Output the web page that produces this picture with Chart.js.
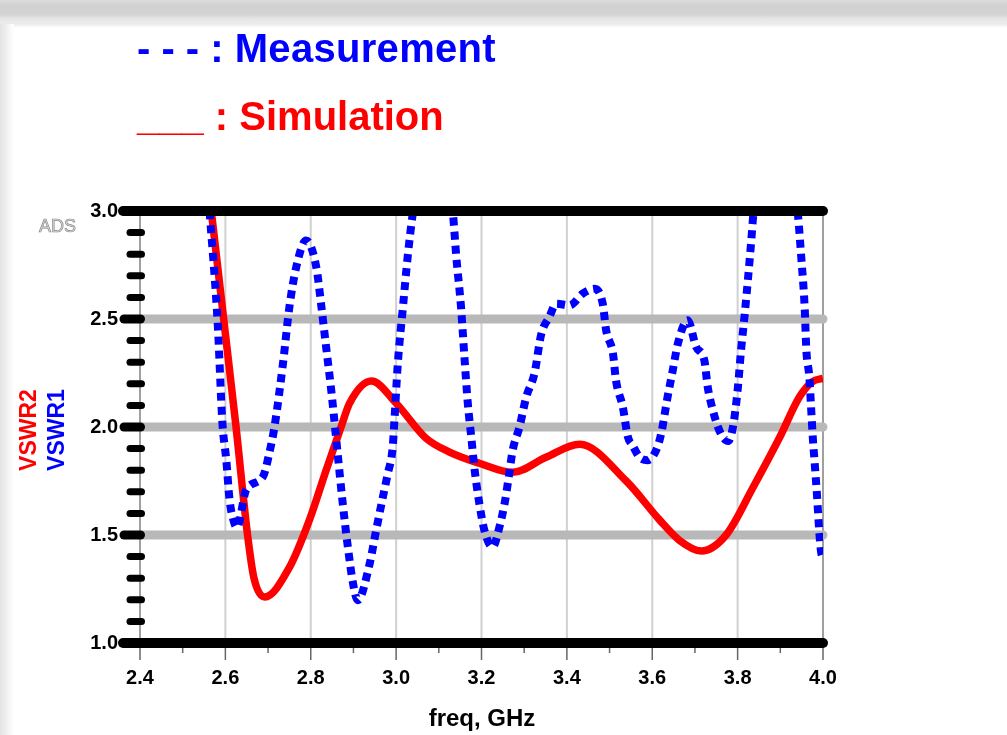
<!DOCTYPE html>
<html>
<head>
<meta charset="utf-8">
<script src="https://cdn.jsdelivr.net/npm/chart.js@4.4.1/dist/chart.umd.min.js"></script>
<style>
body { margin:0; width:1007px; height:735px; overflow:hidden; position:relative; background:#fff; font-family:"Liberation Sans", Arial, sans-serif; }
#topbar { position:absolute; left:0; top:0; width:1007px; height:28px; background:linear-gradient(to bottom, #dcdcdc 0px, #d0d0d0 6px, #d4d4d4 15px, #e4e4e4 18px, #ececec 24px, #ffffff 28px); }
#leftbar { position:absolute; left:0; top:24px; width:14px; height:711px; background:linear-gradient(to right, #e4e4e4 0px, #eeeeee 6px, #f8f8f8 10px, #ffffff 14px); }
canvas { position:absolute; left:0; top:0; }
.leg { position:absolute; left:137px; font-weight:bold; font-size:40px; line-height:40px; white-space:pre; }
.ytitle { position:absolute; width:120px; height:28px; line-height:28px; text-align:center; font-weight:bold; font-size:23px; transform:rotate(-90deg); }
</style>
</head>
<body>
<div id="topbar"></div>
<div id="leftbar"></div>
<canvas id="chart" width="1007" height="735"></canvas>
<div class="leg" style="top:28px; color:#0000ff;">- - - : <span style="letter-spacing:0.3px">Measurement</span></div>
<div class="leg" style="top:96px; color:#ff0000;">___ : Simulation</div>
<div class="ytitle" style="left:-32px; top:416px; color:#ff0000;">VSWR2</div>
<div class="ytitle" style="left:-4px; top:416px; color:#0000ff;">VSWR1</div>
<div style="position:absolute; left:39px; top:216px; font-size:18px; line-height:20px; color:#d8d8d8; -webkit-text-stroke:0.7px #8c8c8c;">ADS</div>
<div style="position:absolute; left:382px; top:706px; width:200px; text-align:center; font-weight:bold; font-size:24px; line-height:24px;">freq, GHz</div>
<script>
const measFreq = [2.563, 2.582, 2.593, 2.602, 2.610, 2.621, 2.627, 2.649, 2.688, 2.703, 2.715, 2.735, 2.750, 2.766, 2.789,
    2.813, 2.825, 2.836, 2.848, 2.856, 2.863, 2.875, 2.887, 2.899, 2.910, 2.938, 2.953, 2.969, 2.980, 2.992,
    2.996, 3.004, 3.016, 3.027, 3.039, 3.086, 3.133, 3.141, 3.152, 3.160, 3.168, 3.176, 3.184, 3.195, 3.207,
    3.226, 3.242, 3.254, 3.265, 3.273, 3.289, 3.305, 3.324, 3.340, 3.359, 3.375, 3.406, 3.437, 3.465, 3.484,
    3.492, 3.508, 3.515, 3.531, 3.543, 3.554, 3.570, 3.589, 3.609, 3.621, 3.636, 3.648, 3.660, 3.683, 3.703,
    3.722, 3.730, 3.742, 3.754, 3.765, 3.778, 3.789, 3.800, 3.808, 3.816, 3.824, 3.832, 3.837, 3.890, 3.941,
    3.949, 3.957, 3.961, 3.968, 3.972, 3.976, 3.980, 3.984, 3.996, 4.000];
const measVswr = [3.00, 2.48, 2.02, 1.85, 1.66, 1.555, 1.535, 1.71, 1.77, 1.88, 2.00, 2.295, 2.556, 2.74, 2.864,
    2.74, 2.556, 2.37, 2.17, 2.017, 1.877, 1.645, 1.444, 1.276, 1.198, 1.367, 1.52, 1.676, 1.78, 1.907,
    2.03, 2.295, 2.556, 2.787, 2.99, 3.6, 2.99, 2.787, 2.556, 2.324, 2.108, 1.954, 1.80, 1.645, 1.52,
    1.444, 1.537, 1.645, 1.784, 1.892, 2.00, 2.14, 2.247, 2.43, 2.51, 2.571, 2.563, 2.617, 2.64, 2.571,
    2.448, 2.34, 2.216, 2.093, 1.954, 1.915, 1.861, 1.846, 1.892, 1.97, 2.14, 2.262, 2.386, 2.494, 2.37,
    2.309, 2.185, 2.077, 2.00, 1.954, 1.935, 2.00, 2.17, 2.355, 2.51, 2.68, 2.864, 2.99, 3.8, 2.99,
    2.787, 2.556, 2.355, 2.232, 2.093, 1.954, 1.846, 1.74, 1.415, 1.40];

// VSWR2 (simulation)
const simFreq = [2.567, 2.596, 2.625, 2.652, 2.667, 2.692, 2.750, 2.797, 2.836, 2.871, 2.891, 2.942, 3.000, 3.070,
    3.125, 3.195, 3.273, 3.351, 3.430, 3.539, 3.617, 3.664, 3.715, 3.773, 3.836, 3.898, 3.945, 3.975, 4.000];
const simVswr = [3.00, 2.50, 2.00, 1.50, 1.30, 1.213, 1.35, 1.57, 1.80, 2.00, 2.11, 2.213, 2.11, 1.948,
    1.884, 1.832, 1.79, 1.86, 1.92, 1.75, 1.57, 1.475, 1.426, 1.50, 1.72, 1.95, 2.14, 2.21, 2.225];

const xMajor = [2.4, 2.6, 2.8, 3.0, 3.2, 3.4, 3.6, 3.8, 4.0];
const yMajor = [1.0, 1.5, 2.0, 2.5, 3.0];

const isMajor = (list, v) => list.some(m => Math.abs(m - v) < 1e-6);

Chart.defaults.font.family = '"Liberation Sans", Arial, sans-serif';

const adsAxes = {
    id: 'adsAxes',
    beforeDatasetsDraw(chart) {
        const ctx = chart.ctx, a = chart.chartArea, x = chart.scales.x, y = chart.scales.y;
        const line = (x1, y1, x2, y2) => { ctx.beginPath(); ctx.moveTo(x1, y1); ctx.lineTo(x2, y2); ctx.stroke(); };
        ctx.save();
        x.ticks.forEach(t => {
            const px = x.getPixelForValue(t.value);
            const major = isMajor(xMajor, t.value);
            ctx.strokeStyle = '#666';
            ctx.lineWidth = 1.5;
            line(px, a.bottom, px, a.bottom + (major ? 17 : 10));
            if (!major) return;
            const edge = t.value < 2.41 || t.value > 3.99;
            ctx.strokeStyle = edge ? '#808080' : '#d0d0d0';
            ctx.lineWidth = edge ? 1.5 : 2;
            line(px, a.top, px, a.bottom);
        });
        ctx.lineCap = 'round';
        y.ticks.forEach(t => {
            const py = y.getPixelForValue(t.value);
            if (isMajor(yMajor, t.value)) {
                if (t.value > 1.01 && t.value < 2.99) {
                    ctx.strokeStyle = '#b8b8b8';
                    ctx.lineWidth = 9;
                    line(a.left, py, a.right, py);
                    ctx.strokeStyle = '#000';
                    line(a.left - 16, py, a.left + 0.5, py);
                }
            } else {
                ctx.strokeStyle = '#000';
                ctx.lineWidth = 7;
                line(a.left - 10, py, a.left + 1.5, py);
            }
        });
        ctx.restore();
    },
    afterDatasetsDraw(chart) {
        const ctx = chart.ctx, a = chart.chartArea, y = chart.scales.y;
        ctx.save();
        ctx.lineCap = 'round';
        ctx.strokeStyle = '#000';
        ctx.lineWidth = 10;
        [1.0, 3.0].forEach(v => {
            const py = y.getPixelForValue(v);
            ctx.beginPath(); ctx.moveTo(a.left - 17, py); ctx.lineTo(a.right, py); ctx.stroke();
        });
        ctx.restore();
    }
};

new Chart(document.getElementById('chart'), {
    type: 'line',
    data: {
        datasets: [
            {
                label: 'VSWR1',
                data: measFreq.map((f, i) => ({ x: f, y: measVswr[i] })),
                borderColor: '#0000ff',
                borderWidth: 8,
                borderDash: [8, 6],
                pointRadius: 0,
                cubicInterpolationMode: 'monotone',
                clip: 0
            },
            {
                label: 'VSWR2',
                data: simFreq.map((f, i) => ({ x: f, y: simVswr[i] })),
                borderColor: '#ff0000',
                borderWidth: 7.5,
                pointRadius: 0,
                cubicInterpolationMode: 'monotone',
                clip: 0
            }
        ]
    },
    options: {
        responsive: false,
        animation: false,
        layout: { padding: { left: 0, right: 184, top: 211, bottom: 0 } },
        plugins: { legend: { display: false }, tooltip: { enabled: false } },
        scales: {
            x: {
                type: 'linear',
                min: 2.4,
                max: 4.0,
                afterFit: s => { s.height = 92; },
                grid: { display: false, drawTicks: false },
                border: { display: false },
                ticks: {
                    stepSize: 0.1,
                    autoSkip: false,
                    maxRotation: 0,
                    padding: 23,
                    color: '#000',
                    font: { size: 20, weight: 'bold' },
                    callback: v => isMajor(xMajor, v) ? v.toFixed(1) : ''
                }
            },
            y: {
                min: 1.0,
                max: 3.0,
                afterFit: s => { s.width = 140; },
                grid: { display: false, drawTicks: false },
                border: { display: false },
                ticks: {
                    stepSize: 0.1,
                    autoSkip: false,
                    padding: 22,
                    color: '#000',
                    font: { size: 20, weight: 'bold' },
                    callback: v => isMajor(yMajor, v) ? v.toFixed(1) : ''
                }
            }
        }
    },
    plugins: [adsAxes]
});
</script>
</body>
</html>
